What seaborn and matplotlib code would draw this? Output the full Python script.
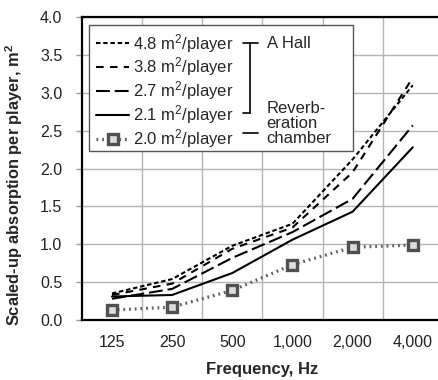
import matplotlib
matplotlib.use("Agg")
import matplotlib.pyplot as plt
import matplotlib.patches as mpatches
import matplotlib.lines as mlines
import numpy as np
import pandas as pd
import seaborn as sns

# values
freqs = ["125", "250", "500", "1,000", "2,000", "4,000"]
hall_48 = [0.35, 0.54, 0.98, 1.27, 2.12, 3.10]
hall_38 = [0.33, 0.48, 0.94, 1.22, 1.95, 3.20]
hall_27 = [0.28, 0.41, 0.82, 1.16, 1.60, 2.57]
hall_21 = [0.31, 0.33, 0.62, 1.06, 1.43, 2.28]
chamber_20 = [0.13, 0.17, 0.39, 0.73, 0.96, 0.99]
labels = ["4.8 m$^2$/player", "3.8 m$^2$/player", "2.7 m$^2$/player",
          "2.1 m$^2$/player", "2.0 m$^2$/player"]

sns.set_style("white")
plt.rcParams["font.family"] = ["Liberation Sans", "DejaVu Sans"]
plt.rcParams["mathtext.fontset"] = "custom"
plt.rcParams["mathtext.rm"] = "Liberation Sans"
plt.rcParams["mathtext.bf"] = "Liberation Sans:bold"
plt.rcParams["mathtext.default"] = "regular"
plt.rcParams["lines.scale_dashes"] = False

fig = plt.figure(figsize=(4.38, 3.80), dpi=100)
ax = fig.add_axes([0.187, 0.158, 0.824, 0.797])

black = dict(color="black", lw=1.5)
styles = [
    dict(linestyle=(0, (3.2, 2.0)), **black),
    dict(linestyle=(0, (5.5, 4.5)), **black),
    dict(linestyle=(0, (10, 3.5)), **black),
    dict(linestyle="-", **black),
    dict(color="#606060", lw=2.3, linestyle=(0, (1.3, 2.8)), marker="s",
         markersize=7.5, markeredgewidth=2.4, markeredgecolor="#505050",
         markerfacecolor="#dcdcdc"),
]
series = [hall_48, hall_38, hall_27, hall_21, chamber_20]
for vals, lab, st in zip(series, labels, styles):
    df = pd.DataFrame({"freq": freqs, "absorption": vals})
    sns.lineplot(data=df, x="freq", y="absorption", ax=ax, label=lab,
                 errorbar=None, sort=False, zorder=3, **st)

ax.set_xlim(-0.5, 5.5)
ax.set_ylim(0, 4)
ax.set_yticks(np.arange(0, 4.01, 0.5))
ax.yaxis.set_major_formatter(matplotlib.ticker.FormatStrFormatter("%.1f"))
ax.set_xticks(np.arange(0.5, 5, 1), minor=True)
ax.grid(False)
ax.yaxis.grid(True, color="#b4b4b4", lw=1)
ax.xaxis.grid(True, which="minor", color="#b4b4b4", lw=1)
ax.set_axisbelow(True)
ax.tick_params(axis="x", which="both", length=0, pad=11, labelsize=11.5,
               colors="#222222")
ax.tick_params(axis="y", length=4, width=1, color="#999999", pad=10,
               labelsize=11.5, colors="#222222", left=True)
for side in ["top", "left", "bottom"]:
    ax.spines[side].set_color("black")
    ax.spines[side].set_linewidth(1.6)
ax.spines["right"].set_visible(False)

ax.set_xlabel("Frequency, Hz", fontweight="bold", fontsize=12)
ax.set_ylabel("Scaled-up absorption per player, m$^{\\mathbf{2}}$",
              fontweight="bold", fontsize=11.8)
ax.yaxis.set_label_coords(-0.158, 0.445)
ax.xaxis.set_label_coords(0.5, -0.14)

# legend box with the hall / chamber bracket
frame = mpatches.Rectangle((0.019, 0.558), 0.731, 0.416, transform=ax.transAxes,
                           facecolor="white", edgecolor="#555555", lw=1,
                           zorder=4)
ax.add_patch(frame)
handles, labs = ax.get_legend_handles_labels()
leg = ax.legend(handles, labs, loc="upper left", bbox_to_anchor=(0.039, 0.952),
                frameon=False, borderpad=0, borderaxespad=0, handlelength=2.0,
                handletextpad=0.2, labelspacing=0.06, fontsize=12)
leg.set_zorder(5)

br = dict(color="black", lw=1.2, transform=ax.transAxes, zorder=5)
ax.add_line(mlines.Line2D([0.465, 0.465], [0.914, 0.683], **br))
ax.add_line(mlines.Line2D([0.446, 0.488], [0.914, 0.914], **br))
ax.add_line(mlines.Line2D([0.446, 0.465], [0.683, 0.683], **br))
ax.add_line(mlines.Line2D([0.446, 0.488], [0.617, 0.617], **br))
ax.text(0.512, 0.914, "A Hall", transform=ax.transAxes, fontsize=12,
        va="center", ha="left", zorder=6)
ax.text(0.512, 0.648, "Reverb-\neration\nchamber", transform=ax.transAxes,
        fontsize=12, va="center", ha="left", linespacing=0.98, zorder=6)

fig.savefig("out.png", dpi=100)
